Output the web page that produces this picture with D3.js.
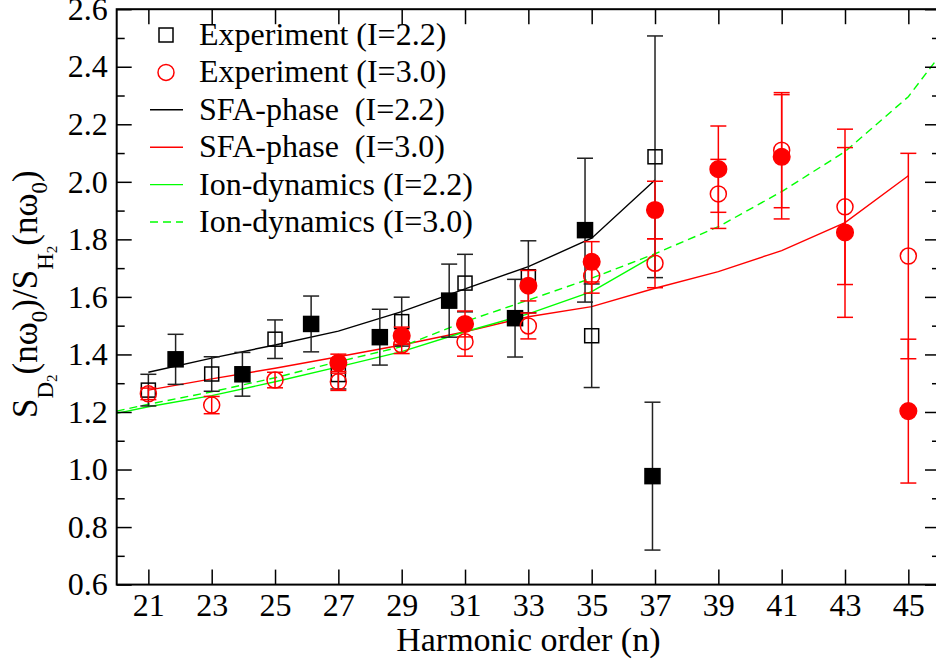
<!DOCTYPE html>
<html>
<head>
<meta charset="utf-8">
<script src="https://cdn.jsdelivr.net/npm/d3@7"></script>
<style>
  body { margin: 0; background: #fff; overflow: hidden; }
  svg { display: block; font-family: "Liberation Serif", "Times New Roman", serif; }
</style>
</head>
<body>
<div id="chart"></div>
<script>
// harmonic orders and ratios
const harm22 = [21, 23, 25, 27, 29, 31, 33, 35, 37];
const expOpen22 = [1.276, 1.332, 1.453, 1.33, 1.514, 1.648, 1.670, 1.465, 2.087];
const expOpen22Err = [0.055, 0.06, 0.067, 0.05, 0.085, 0.10, 0.125, 0.18, 0.42];

// filled squares sit a bit off the odd orders
const harmFilled22 = [21.86, 23.97, 26.14, 28.31, 30.50, 32.58, 34.79, 36.92];
const expFilled22 = [1.383, 1.331, 1.506, 1.460, 1.587, 1.526, 1.832, 0.977];
const expFilled22Err = [0.087, 0.076, 0.097, 0.097, 0.127, 0.135, 0.25, 0.257];

const harm30 = [21, 23, 25, 27, 29, 31, 33, 35, 37, 39, 41, 43, 45];
const expOpen30 = [1.263, 1.224, 1.311, 1.305, 1.433, 1.444, 1.499, 1.673, 1.717, 1.958, 2.110, 1.913, 1.742];
const expOpen30Err = [0.02, 0.03, 0.027, 0.03, 0.03, 0.05, 0.045, 0.06, 0.085, 0.12, 0.20, 0.27, 0.357];

const harmFilled30 = [27, 29, 31, 33, 35, 37, 39, 41, 43, 45];
const expFilled30 = [1.371, 1.465, 1.506, 1.639, 1.722, 1.902, 2.044, 2.087, 1.824, 1.203];
const expFilled30Err = [0.03, 0.03, 0.045, 0.053, 0.07, 0.10, 0.15, 0.216, 0.295, 0.25];

const sfa22 = [1.338, 1.387, 1.433, 1.481, 1.549, 1.628, 1.705, 1.804, 2.006];
const sfa30 = [1.276, 1.315, 1.352, 1.392, 1.433, 1.479, 1.531, 1.566, 1.630, 1.688, 1.761, 1.858, 2.021];

const ionHarm22 = [20, 21, 23, 25, 27, 29, 31, 33, 35, 37];
const ion22 = [1.195, 1.218, 1.257, 1.305, 1.357, 1.410, 1.479, 1.541, 1.618, 1.745];
const ionHarm30 = [20, 21, 23, 25, 27, 29, 31, 33, 35, 37, 39, 41, 43, 45, 46];
const ion30 = [1.203, 1.227, 1.270, 1.319, 1.375, 1.427, 1.514, 1.589, 1.665, 1.750, 1.844, 1.966, 2.105, 2.296, 2.44];

// ticks
const xTicks = [21, 23, 25, 27, 29, 31, 33, 35, 37, 39, 41, 43, 45];
const yTicks = [0.6, 0.8, 1.0, 1.2, 1.4, 1.6, 1.8, 2.0, 2.2, 2.4, 2.6];
const yMinor = [0.7, 0.9, 1.1, 1.3, 1.5, 1.7, 1.9, 2.1, 2.3, 2.5];

const legendLabels = ["Experiment (I=2.2)", "Experiment (I=3.0)", "SFA-phase  (I=2.2)",
  "SFA-phase  (I=3.0)", "Ion-dynamics (I=2.2)", "Ion-dynamics (I=3.0)"];

const W = 936, H = 659;
const pLeft = 116.7, pTop = 9.2, pRight = 940, pBottom = 584.6;
const RED = "#ff0000", GREEN = "#00ff00";

const svg = d3.select("#chart").append("svg")
  .attr("width", W).attr("height", H);

const x = d3.scaleLinear().domain([20, 46]).range([pLeft, pRight]);
const y = d3.scaleLinear().domain([0.6, 2.6]).range([pBottom, pTop]);

// lines first
const line = d3.line().x(d => x(d[0])).y(d => y(d[1]));
function curve(xs, ys, color, dash) {
  svg.append("path")
    .datum(xs.map((v, i) => [v, ys[i]]))
    .attr("d", line)
    .attr("fill", "none")
    .attr("stroke", color)
    .attr("stroke-width", 1.4)
    .attr("stroke-dasharray", dash || null);
}
curve(harm22, sfa22, "#000");
curve(harm30, sfa30, RED);
curve(ionHarm22, ion22, GREEN);
curve(ionHarm30, ion30, GREEN, "8,5");

// error bars
function errorBars(xs, ys, es, color) {
  const g = svg.append("g").attr("stroke", color).attr("stroke-width", 1.5);
  xs.forEach((v, i) => {
    const cx = x(v), y0 = y(ys[i] - es[i]), y1 = y(ys[i] + es[i]);
    g.append("line").attr("x1", cx).attr("x2", cx).attr("y1", y0).attr("y2", y1);
    g.append("line").attr("x1", cx - 8).attr("x2", cx + 8).attr("y1", y0).attr("y2", y0);
    g.append("line").attr("x1", cx - 8).attr("x2", cx + 8).attr("y1", y1).attr("y2", y1);
  });
}
function squares(xs, ys, filled, s) {
  svg.append("g").selectAll("rect")
    .data(xs.map((v, i) => [v, ys[i]]))
    .join("rect")
    .attr("x", d => x(d[0]) - s / 2)
    .attr("y", d => y(d[1]) - s / 2)
    .attr("width", s).attr("height", s)
    .attr("fill", filled ? "#000" : "none")
    .attr("stroke", "#000")
    .attr("stroke-width", 1.5);
}
function circles(xs, ys, filled) {
  svg.append("g").selectAll("circle")
    .data(xs.map((v, i) => [v, ys[i]]))
    .join("circle")
    .attr("cx", d => x(d[0]))
    .attr("cy", d => y(d[1]))
    .attr("r", filled ? 8.3 : 8)
    .attr("fill", filled ? RED : "none")
    .attr("stroke", RED)
    .attr("stroke-width", 1.5);
}

errorBars(harm22, expOpen22, expOpen22Err, "#222");
squares(harm22, expOpen22, false, 14);
errorBars(harmFilled22, expFilled22, expFilled22Err, "#222");
squares(harmFilled22, expFilled22, true, 15);
errorBars(harm30, expOpen30, expOpen30Err, RED);
circles(harm30, expOpen30, false);
errorBars(harmFilled30, expFilled30, expFilled30Err, RED);
circles(harmFilled30, expFilled30, true);

// axes, ticks pointing inside
function clean(g) {
  g.attr("font-family", null);
  g.select(".domain").remove();
  g.selectAll(".tick line").attr("stroke", "#000").attr("stroke-width", 1.5);
  g.selectAll("text").attr("fill", "#000").attr("font-size", 32);
}
svg.append("g").attr("transform", `translate(0,${pBottom})`)
  .call(d3.axisBottom(x).tickValues(xTicks).tickSize(-15).tickPadding(9).tickFormat(d3.format("d")))
  .call(clean);
svg.append("g").attr("transform", `translate(0,${pTop})`)
  .call(d3.axisTop(x).tickValues(xTicks).tickSize(-15).tickFormat(""))
  .call(clean);
svg.append("g").attr("transform", `translate(${pLeft},0)`)
  .call(d3.axisLeft(y).tickValues(yTicks).tickSize(-15).tickPadding(9).tickFormat(d3.format(".1f")))
  .call(clean);
svg.append("g").attr("transform", `translate(${pLeft},0)`)
  .call(d3.axisLeft(y).tickValues(yMinor).tickSize(-8).tickFormat(""))
  .call(clean);
svg.append("g").attr("transform", `translate(${pRight},0)`)
  .call(d3.axisRight(y).tickValues(yTicks).tickSize(-15).tickFormat(""))
  .call(clean);
svg.append("g").attr("transform", `translate(${pRight},0)`)
  .call(d3.axisRight(y).tickValues(yMinor).tickSize(-8).tickFormat(""))
  .call(clean);

// frame
svg.append("rect")
  .attr("x", pLeft).attr("y", pTop)
  .attr("width", pRight - pLeft).attr("height", pBottom - pTop)
  .attr("fill", "none").attr("stroke", "#000").attr("stroke-width", 2);

// axis titles
svg.append("text")
  .attr("x", (pLeft + pRight) / 2).attr("y", 651)
  .attr("text-anchor", "middle").attr("font-size", 34)
  .text("Harmonic order (n)");

const yl = svg.append("text")
  .attr("transform", "translate(37,418) rotate(-90)")
  .attr("font-size", 35);
yl.append("tspan").text("S");
yl.append("tspan").attr("font-size", 23).attr("dy", 16).text("D");
yl.append("tspan").attr("font-size", 15).attr("dy", 4).text("2");
yl.append("tspan").attr("dy", -20).text("(nω");
yl.append("tspan").attr("font-size", 23).attr("dy", 10).text("0");
yl.append("tspan").attr("dy", -10).text(")/S");
yl.append("tspan").attr("font-size", 23).attr("dy", 16).text("H");
yl.append("tspan").attr("font-size", 15).attr("dy", 4).text("2");
yl.append("tspan").attr("dy", -20).text("(nω");
yl.append("tspan").attr("font-size", 23).attr("dy", 10).text("0");
yl.append("tspan").attr("dy", -10).text(")");

// legend
const lx = 166, ly0 = 35, lstep = 37.4;
const leg = svg.append("g");
legendLabels.forEach((t, i) => {
  leg.append("text")
    .attr("x", 199).attr("y", ly0 + i * lstep + 10)
    .attr("font-size", 32)
    .style("white-space", "pre")
    .text(t);
});
leg.append("rect").attr("x", lx - 7).attr("y", ly0 - 7).attr("width", 14).attr("height", 14)
  .attr("fill", "none").attr("stroke", "#000").attr("stroke-width", 1.5);
leg.append("circle").attr("cx", lx).attr("cy", ly0 + lstep).attr("r", 8)
  .attr("fill", "none").attr("stroke", RED).attr("stroke-width", 1.5);
[["#000", null], [RED, null], [GREEN, null], [GREEN, "8,5"]].forEach((s, i) => {
  leg.append("line")
    .attr("x1", 150).attr("x2", 183)
    .attr("y1", ly0 + (i + 2) * lstep).attr("y2", ly0 + (i + 2) * lstep)
    .attr("stroke", s[0]).attr("stroke-width", 1.4)
    .attr("stroke-dasharray", s[1]);
});
</script>
</body>
</html>
